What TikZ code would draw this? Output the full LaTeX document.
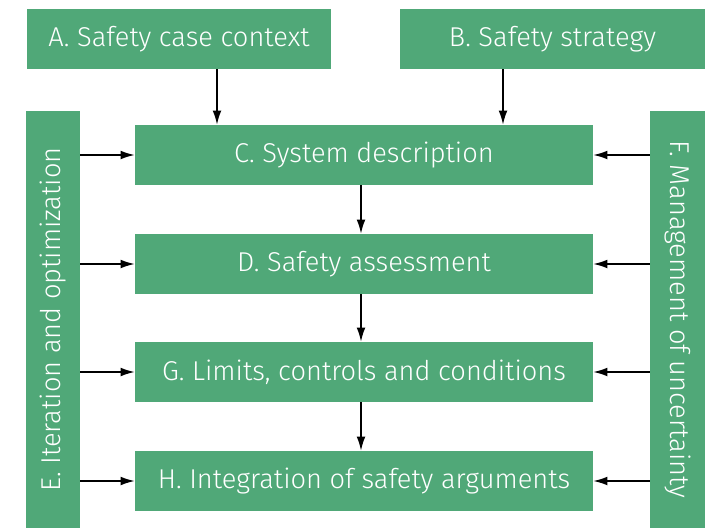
\documentclass[tikz,border=0pt]{standalone}
\usepackage{fontspec}
\setmainfont{Fira Sans Light}
\usetikzlibrary{arrows.meta}
\definecolor{boxgreen}{RGB}{80,168,120}
\tikzset{
  box/.style={fill=boxgreen, text=white, inner sep=0pt, font=\fontsize{15.5}{18}\selectfont},
  link/.style={-{Latex[length=8pt,width=5pt]}, line width=0.8pt}
}
\newcommand{\pu}{0.02cm}
\begin{document}
\begin{tikzpicture}[x=0.02cm,y=-0.02cm]
\useasboundingbox (0,0) rectangle (716,528);
% top boxes
\node[box, minimum width=304*\pu, minimum height=60*\pu] (A) at (179,39) {A. Safety case context};
\node[box, minimum width=305*\pu, minimum height=60*\pu] (B) at (552.5,39) {B. Safety strategy};
% side bars
\node[box, rotate=90, minimum width=417*\pu, minimum height=54*\pu] (E) at (53,319.5) {E. Iteration and optimization};
\node[box, rotate=-90, minimum width=417*\pu, minimum height=55*\pu] (F) at (677.5,319.5) {F. Management of uncertainty};
% main column
\foreach \n/\y/\t in {C/155/C. System description, D/264/D. Safety assessment, G/372/{G. Limits, controls and conditions}, H/481/H. Integration of safety arguments}
  \node[box, minimum width=458*\pu, minimum height=60*\pu] (\n) at (364,\y) {\t};
% arrows
\draw[link] (A.south -| 217,0) -- (C.north -| 217,0);
\draw[link] (B.south -| 503,0) -- (C.north -| 503,0);
\draw[link] (C.south -| 361,0) -- (D.north -| 361,0);
\draw[link] (D.south -| 361,0) -- (G.north -| 361,0);
\draw[link] (G.south -| 361,0) -- (H.north -| 361,0);
\foreach \n in {C,D,G,H}{
  \draw[link] (E.south |- \n.west) -- (\n.west);
  \draw[link] (F.south |- \n.east) -- (\n.east);
}
\end{tikzpicture}
\end{document}
